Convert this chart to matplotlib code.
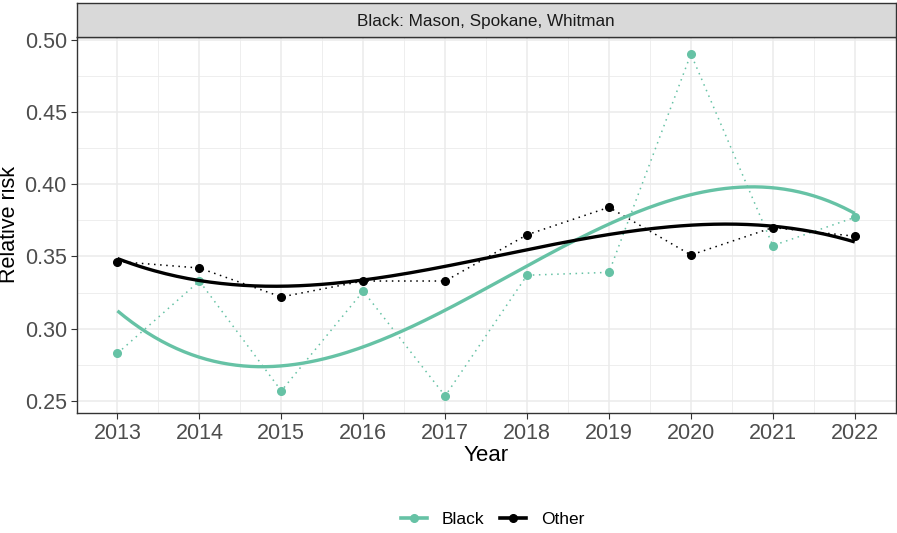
import numpy as np
import matplotlib
matplotlib.use("Agg")
import matplotlib.pyplot as plt
from matplotlib.lines import Line2D
from matplotlib.patches import Rectangle

plt.rcParams['font.family'] = ['Liberation Sans', 'DejaVu Sans']

years = [2013, 2014, 2015, 2016, 2017, 2018, 2019, 2020, 2021, 2022]
black_rr = [0.283, 0.333, 0.257, 0.326, 0.2535, 0.337, 0.339, 0.490, 0.3575, 0.377]
other_rr = [0.3465, 0.342, 0.322, 0.333, 0.333, 0.365, 0.384, 0.351, 0.370, 0.364]
series_names = ["Black", "Other"]
series_colors = ["#66C2A5", "#000000"]
facet_title = "Black: Mason, Spokane, Whitman"
y_ticks = [0.25, 0.30, 0.35, 0.40, 0.45, 0.50]


def cubic_trend(x, y, xs):
    """Least-squares cubic trend evaluated on a fine grid."""
    x = np.asarray(x, float)
    c = x.mean()
    coef = np.polyfit(x - c, np.asarray(y, float), 3)
    return np.polyval(coef, np.asarray(xs) - c)


W_PX, H_PX = 897, 533
fig = plt.figure(figsize=(W_PX / 100, H_PX / 100), dpi=100)

left, right, top, bottom = 76.5, 895.7, 37, 413
ax = fig.add_axes([left / W_PX, 1 - bottom / H_PX, (right - left) / W_PX, (bottom - top) / H_PX])

xs = np.linspace(years[0], years[-1], 200)
for vals, name, col in zip([black_rr, other_rr], series_names, series_colors):
    ax.plot(years, vals, linestyle=(0, (1, 3)), color=col, linewidth=1.1, zorder=3)
    ax.plot(years, vals, linestyle="none", marker="o", markersize=5.5, color=col, zorder=4)
    ax.plot(xs, cubic_trend(years, vals, xs), color=col, linewidth=2.4, zorder=5,
            solid_capstyle="butt")

ax.set_xlim(2012.55, 2022.45)
ax.set_ylim(0.2417, 0.5018)
ax.set_xticks(years)
ax.set_xticks(np.arange(2012.5, 2022.6, 1.0), minor=True)
ax.set_yticks(y_ticks)
ax.set_yticks(np.arange(0.275, 0.5, 0.05), minor=True)
ax.set_yticklabels([f"{v:.2f}" for v in y_ticks])

ax.grid(which="major", color="#EBEBEB", linewidth=1.1, zorder=0)
ax.grid(which="minor", color="#EBEBEB", linewidth=0.6, zorder=0)
ax.set_axisbelow(True)
for s in ax.spines.values():
    s.set_color("#333333")
    s.set_linewidth(1.0)
ax.tick_params(which="major", length=4, width=0.8, color="#333333",
               labelsize=15.5, labelcolor="#4D4D4D", pad=3)
ax.tick_params(which="minor", length=0)

ax.set_xlabel("Year", fontsize=16, color="black", labelpad=1)
fig.text(10 / W_PX, 1 - 224 / H_PX, "Relative risk", rotation=90, ha="center", va="center",
         fontsize=15.5, color="black")

# facet strip
strip_top = 3
sax = fig.add_axes([left / W_PX, 1 - top / H_PX, (right - left) / W_PX, (top - strip_top) / H_PX])
sax.set_xlim(0, 1)
sax.set_ylim(0, 1)
sax.add_patch(Rectangle((0, 0), 1, 1, facecolor="#D9D9D9", edgecolor="none"))
sax.set_xticks([])
sax.set_yticks([])
for s in sax.spines.values():
    s.set_color("#333333")
    s.set_linewidth(1.0)
sax.text(0.5, 0.47, facet_title, ha="center", va="center", fontsize=12.3, color="#1A1A1A")

handles = [Line2D([0], [0], color=c, linewidth=2.6, marker="o", markersize=5.5)
           for c in series_colors]
fig.legend(handles, series_names, loc="center", bbox_to_anchor=(492.5 / W_PX, 1 - 519 / H_PX),
           ncol=2, frameon=False, fontsize=12.5, handlelength=1.5, handletextpad=0.86,
           columnspacing=0.9)

fig.savefig("out.png", dpi=100)
